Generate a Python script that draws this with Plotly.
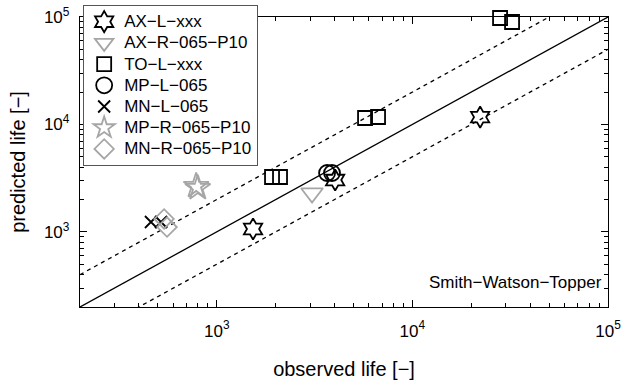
import plotly.graph_objects as go

# ---- data (observed life, predicted life) ----
ax_l_obs = [1533, 4030, 22200]
ax_l_pred = [1064, 3040, 11700]

ax_r_obs = [3070]
ax_r_pred = [2300]

to_l_obs = [1917, 2106, 5730, 6676, 28070, 32330]
to_l_pred = [3243, 3243, 11480, 11730, 97900, 89800]

mp_l_obs = [3664, 3883]
mp_l_pred = [3533, 3533]

mn_l_obs = [461, 519]
mn_l_pred = [1236, 1236]

mp_r_obs = [785, 800]
mp_r_pred = [2680, 2560]

mn_r_obs = [538, 557]
mn_r_pred = [1319, 1110]

ref_x = [200, 100000]
ref_factor = 2.0

series_names = ["AX−L−xxx", "AX−R−065−P10", "TO−L−xxx", "MP−L−065",
                "MN−L−065", "MP−R−065−P10", "MN−R−065−P10"]
major_ticks = [1e3, 1e4, 1e5]
major_text = ["10<sup>3</sup>", "10<sup>4</sup>", "10<sup>5</sup>"]
minor_ticks = [m * d for d in (100, 1000, 10000) for m in range(2, 10)]

FONT = "Liberation Sans, Arial, Helvetica, sans-serif"
BLACK = "#000000"
GREY = "#a6a6a6"

fig = go.Figure()

# reference lines
fig.add_trace(go.Scatter(x=ref_x, y=ref_x, mode="lines",
                         line=dict(color=BLACK, width=1.3), showlegend=False, hoverinfo="skip"))
fig.add_trace(go.Scatter(x=ref_x, y=[v * ref_factor for v in ref_x], mode="lines",
                         line=dict(color=BLACK, width=1.3, dash="4px,4px"), showlegend=False, hoverinfo="skip"))
fig.add_trace(go.Scatter(x=ref_x, y=[v / ref_factor for v in ref_x], mode="lines",
                         line=dict(color=BLACK, width=1.3, dash="4px,4px"), showlegend=False, hoverinfo="skip"))

specs = [
    (ax_l_obs, ax_l_pred, "hexagram-open", BLACK, 16),
    (ax_r_obs, ax_r_pred, "triangle-down-open", GREY, 19),
    (to_l_obs, to_l_pred, "square-open", BLACK, 14),
    (mp_l_obs, mp_l_pred, "circle-open", BLACK, 16),
    (mn_l_obs, mn_l_pred, "x-thin-open", BLACK, 12),
    (mp_r_obs, mp_r_pred, "star-open", GREY, 19),
    (mn_r_obs, mn_r_pred, "diamond-open", GREY, 15),
]
for name, (xs, ys, sym, col, size) in zip(series_names, specs):
    fig.add_trace(go.Scatter(
        x=xs, y=ys, mode="markers", cliponaxis=False,
        name='<span style="font-size:17px">' + name + '</span>',
        marker=dict(symbol=sym, size=size, color=col,
                    line=dict(color=col, width=1.8)),
    ))

axis_common = dict(
    type="log", range=[2.30103, 5], showgrid=False, zeroline=False,
    showline=True, linecolor=BLACK, linewidth=1.3, mirror="allticks",
    ticks="inside", ticklen=7, tickwidth=1, tickcolor=BLACK,
    tickmode="array", tickvals=major_ticks, ticktext=major_text,
    tickfont=dict(family=FONT, size=17, color=BLACK),
    minor=dict(ticks="inside", ticklen=4, tickwidth=1, tickcolor=BLACK,
               showgrid=False, tickmode="array", tickvals=minor_ticks),
)

fig.update_layout(
    width=624, height=384,
    margin=dict(l=80, r=16, t=17, b=77, autoexpand=False),
    paper_bgcolor="white", plot_bgcolor="white",
    font=dict(family=FONT, color=BLACK),
    xaxis=dict(**axis_common, ticklabelstandoff=8,
               title=dict(text="observed life [−]", font=dict(family=FONT, size=20), standoff=22)),
    yaxis=dict(**axis_common, ticklabelstandoff=6,
               title=dict(text="predicted life [−]", font=dict(family=FONT, size=20), standoff=12)),
    legend=dict(x=0.006, y=1.041, xanchor="left", yanchor="top",
                bgcolor="white", bordercolor="#555555", borderwidth=1,
                font=dict(family=FONT, size=14, color=BLACK),
                itemwidth=30, tracegroupgap=0),
    annotations=[dict(text="Smith−Watson−Topper", xref="paper", yref="paper",
                      x=0.992, y=0.045, xanchor="right", yanchor="bottom", showarrow=False,
                      font=dict(family=FONT, size=17, color=BLACK))],
    showlegend=True,
)

fig.write_html("out.html")
